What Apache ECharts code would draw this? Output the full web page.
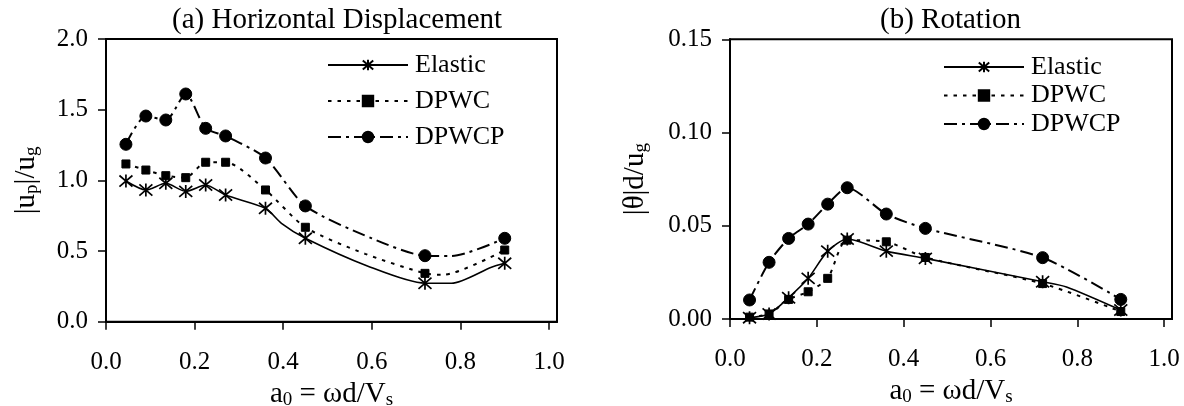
<!DOCTYPE html>
<html>
<head>
<meta charset="utf-8">
<script src="https://cdn.jsdelivr.net/npm/echarts@6/dist/echarts.min.js"></script>
<style>
  html, body { margin: 0; padding: 0; background: #fff; }
  #chart { width: 1184px; height: 406px; }
</style>
</head>
<body>
<div id="chart"></div>
<script>
// frequencies a0 that carry a marker
const a0Marked = [0.045, 0.09, 0.135, 0.18, 0.225, 0.27, 0.36, 0.45, 0.72, 0.9]
const xTicks = [0, 0.2, 0.4, 0.6, 0.8, 1.0]

// (a) horizontal displacement |up|/ug
const dispElastic = [0.995, 0.932, 0.979, 0.922, 0.967, 0.896, 0.802, 0.59, 0.272, 0.413]
const dispDPWC = [1.116, 1.073, 1.033, 1.019, 1.128, 1.128, 0.932, 0.668, 0.342, 0.507]
const dispDPWCP = [1.255, 1.455, 1.427, 1.611, 1.368, 1.314, 1.158, 0.819, 0.467, 0.59]
// curve points without marker
const dispElasticExtra = [[0.396, 0.696], [0.59, 0.394], [0.78, 0.272], [0.87, 0.385]]
const dispDPWCExtra = [[0.585, 0.48], [0.76, 0.332]]
const dispDPWCPExtra = [[0.6, 0.59], [0.78, 0.465]]

// (b) rotation |θ|d/ug
const rotElastic = [0.0007, 0.0027, 0.0114, 0.0218, 0.0364, 0.0429, 0.0364, 0.0325, 0.020, 0.0048]
const rotDPWC = [0.001, 0.0027, 0.0105, 0.0146, 0.0218, 0.0423, 0.0414, 0.033, 0.019, 0.004]
const rotDPWCP = [0.0102, 0.0304, 0.0432, 0.0509, 0.0616, 0.0704, 0.0563, 0.0486, 0.0329, 0.0105]
const rotElasticExtra = [[0.775, 0.0172]]
const rotDPWCExtra = []
const rotDPWCPExtra = []

const FONT = '"Liberation Serif", "Times New Roman", serif'
const STAR = 'path://M0,0L12,12M0,12L12,0M6,-1L6,13'

function buildLine(xs, ys, extra) {
  var pts = xs.map(function (x, i) { return { value: [x, ys[i]] } })
  extra.forEach(function (p) { pts.push({ value: p, symbol: 'none' }) })
  pts.sort(function (a, b) { return a.value[0] - b.value[0] })
  return pts
}

var styles = {
  Elastic: { symbol: STAR, symbolSize: 13, borderWidth: 1.7, lineStyle: { type: 'solid', width: 1.6 } },
  DPWC: { symbol: 'rect', symbolSize: 8, borderWidth: 1, lineStyle: { type: [3.5, 6], width: 2 } },
  DPWCP: { symbol: 'circle', symbolSize: 12, borderWidth: 1, lineStyle: { type: [13, 5, 3, 5], width: 2 } }
}

function makeSeries(name, idx, data) {
  var s = styles[name]
  return {
    name: name,
    type: 'line',
    xAxisIndex: idx,
    yAxisIndex: idx,
    data: data,
    smooth: 0.25,
    symbol: s.symbol,
    symbolSize: s.symbolSize,
    showAllSymbol: true,
    lineStyle: Object.assign({ color: '#000' }, s.lineStyle),
    itemStyle: { color: '#000', borderColor: '#000', borderWidth: s.borderWidth },
    emphasis: { disabled: true },
    z: 3
  }
}

var nameRich = {
  n: { fontSize: 29, fontFamily: FONT, color: '#000', lineHeight: 31, verticalAlign: 'middle' },
  s: { fontSize: 19, fontFamily: FONT, color: '#000', lineHeight: 19, verticalAlign: 'bottom' }
}

function xAxis(idx, gap) {
  return {
    type: 'value',
    gridIndex: idx,
    min: 0,
    max: 1.018,
    name: '{n|a}{s|0}{n| = ωd/V}{s|s}',
    nameLocation: 'middle',
    nameGap: gap,
    nameTextStyle: { fontFamily: FONT, color: '#000', rich: nameRich },
    axisLine: { show: true, onZero: false, lineStyle: { color: '#000', width: 2 } },
    axisTick: { show: true, length: 8, customValues: xTicks, lineStyle: { color: '#000', width: 1.5 } },
    axisLabel: {
      customValues: xTicks, margin: 28, fontSize: 25, fontFamily: FONT, color: '#000',
      formatter: function (v) { return v.toFixed(1) }
    },
    splitLine: { show: false }
  }
}

function yAxis(idx, max, interval, digits, name, gap) {
  return {
    type: 'value',
    gridIndex: idx,
    min: 0,
    max: max,
    interval: interval,
    name: name,
    nameLocation: 'middle',
    nameGap: gap,
    nameTextStyle: { fontFamily: FONT, color: '#000', rich: nameRich },
    axisLine: { show: true, lineStyle: { color: '#000', width: 2 } },
    axisTick: { show: true, length: 8, lineStyle: { color: '#000', width: 1.5 } },
    axisLabel: {
      margin: 18, fontSize: 25, fontFamily: FONT, color: '#000',
      formatter: function (v) { return v.toFixed(digits) }
    },
    splitLine: { show: false }
  }
}

function legend(left, top, gap) {
  return {
    left: left,
    top: top,
    orient: 'vertical',
    padding: 0,
    itemWidth: 80,
    itemHeight: 13,
    itemGap: gap,
    selectedMode: false,
    data: ['Elastic', 'DPWC', 'DPWCP'],
    textStyle: { fontSize: 26, fontFamily: FONT, color: '#000', lineHeight: 22, padding: [0, 0, 0, 2] }
  }
}

var chart = echarts.init(document.getElementById('chart'), null, { renderer: 'canvas' })

var option = {
  animation: false,
  backgroundColor: '#fff',
  title: [
    { text: '(a) Horizontal Displacement', left: 172, top: 6, padding: 0,
      textStyle: { fontSize: 29, fontWeight: 'normal', fontFamily: FONT, color: '#000' } },
    { text: '(b) Rotation', left: 880, top: 6, padding: 0,
      textStyle: { fontSize: 29, fontWeight: 'normal', fontFamily: FONT, color: '#000' } }
  ],
  legend: [legend(327, 52, 10), legend(943, 54, 2.5)],
  grid: [
    { left: 106, top: 39, width: 451, height: 282.7, outerBoundsMode: 'none', containLabel: false,
      show: true, borderColor: '#000', borderWidth: 2 },
    { left: 730, top: 39.3, width: 442, height: 279.7, outerBoundsMode: 'none', containLabel: false,
      show: true, borderColor: '#000', borderWidth: 2 }
  ],
  xAxis: [xAxis(0, 46), xAxis(1, 46)],
  yAxis: [
    yAxis(0, 2.0, 0.5, 1, '{n||u}{s|p}{n||/u}{s|g}', 64),
    yAxis(1, 0.15, 0.05, 2, '{n||θ|d/u}{s|g}', 79)
  ],
  series: [
    makeSeries('Elastic', 0, buildLine(a0Marked, dispElastic, dispElasticExtra)),
    makeSeries('DPWC', 0, buildLine(a0Marked, dispDPWC, dispDPWCExtra)),
    makeSeries('DPWCP', 0, buildLine(a0Marked, dispDPWCP, dispDPWCPExtra)),
    makeSeries('Elastic', 1, buildLine(a0Marked, rotElastic, rotElasticExtra)),
    makeSeries('DPWC', 1, buildLine(a0Marked, rotDPWC, rotDPWCExtra)),
    makeSeries('DPWCP', 1, buildLine(a0Marked, rotDPWCP, rotDPWCPExtra))
  ]
}

chart.setOption(option)
</script>
</body>
</html>
